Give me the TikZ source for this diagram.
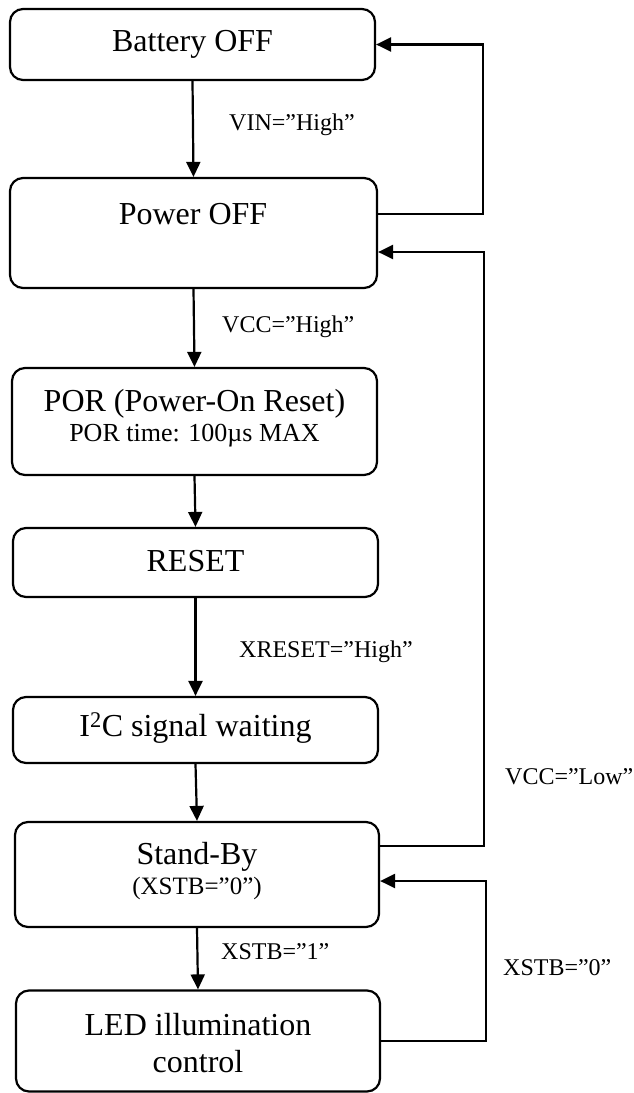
\documentclass[tikz,border=0pt]{standalone}
\usepackage{fontspec}
\setmainfont{Liberation Serif}
\usetikzlibrary{arrows.meta}
\begin{document}
\begin{tikzpicture}[x=1pt,y=-1pt,
  box/.style={draw,line width=2.2pt,rounded corners=13pt,rectangle,inner sep=0pt},
  arr/.style={line width=2.2pt,-{Triangle[length=15pt,width=14pt]}},
  big/.style={inner sep=0pt,font=\fontsize{32pt}{36pt}\selectfont},
  mid/.style={inner sep=0pt,font=\fontsize{26pt}{30pt}\selectfont},
  lbl/.style={inner sep=0pt,anchor=west,font=\fontsize{24pt}{28pt}\selectfont}]
\useasboundingbox (0,0) rectangle (633,1093);
% boxes
\node[box,minimum width=365pt,minimum height=71pt] (bat) at (192.5,44.5) {};
\node[box,minimum width=367pt,minimum height=110pt] (pow) at (193.5,233) {};
\node[box,minimum width=365pt,minimum height=107pt] (por) at (194.5,421.5) {};
\node[box,minimum width=365pt,minimum height=69pt] (rst) at (195.5,562.5) {};
\node[box,minimum width=365pt,minimum height=66pt] (i2c) at (195.5,730) {};
\node[box,minimum width=364pt,minimum height=105pt] (stb) at (197,874.5) {};
\node[box,minimum width=364pt,minimum height=101pt] (led) at (198,1041) {};
% box texts
\node[big] (tbat) at (192.5,44) {Battery OFF};
\node[big] (tpow) at (193,214) {Power OFF};
\node[big] (tpor) at (194.5,404) {POR (Power-On Reset)};
\node[mid] (tpor2) at (194.5,436) {POR time: 100µs MAX};
\node[big] (trst) at (195.5,561) {RESET};
\node[big] (ti2c) at (195.5,728) {I\textsuperscript{2}C signal waiting};
\node[big] (tstb) at (197,857) {Stand-By};
\node[mid,font=\fontsize{25pt}{29pt}\selectfont] (tstb2) at (197,888) {(XSTB=\symbol{"22}0\symbol{"22})};
\node[big] (tled) at (198,1025) {LED illumination};
\node[big] (tled2) at (198,1062) {control};
% vertical arrows
\draw[arr] (bat.south) -- (pow.north);
\draw[arr] (pow.south) -- (por.north);
\draw[arr] (por.south) -- (rst.north);
\draw[arr] (rst.south) -- (i2c.north);
\draw[arr] (i2c.south) -- (stb.north);
\draw[arr] (stb.south) -- (led.north);
% labels
\node[lbl] (l1) at (229,125) {VIN=”High”};
\node[lbl] (l2) at (222,327) {VCC=”High”};
\node[lbl] (l3) at (239,652) {XRESET=”High”};
\node[lbl] (l4) at (221,952) {XSTB=”1”};
\node[lbl] (l5) at (505,777) {VCC=”Low”};
\node[lbl] (l6) at (503,968) {XSTB=”0”};
% feedback loops
\coordinate (r1) at (483,214);
\coordinate (r1t) at (483,44.5);
\draw[arr] (pow.east |- r1) -- (r1) -- (r1t) -- (bat.east);
\coordinate (r2) at (484,846);
\coordinate (r2t) at (484,252);
\draw[arr] (stb.east |- r2) -- (r2) -- (r2t) -- (pow.east |- r2t);
\coordinate (r3) at (486,1041);
\coordinate (r3t) at (486,881);
\draw[arr] (led.east) -- (r3) -- (r3t) -- (stb.east |- r3t);
\end{tikzpicture}
\end{document}
